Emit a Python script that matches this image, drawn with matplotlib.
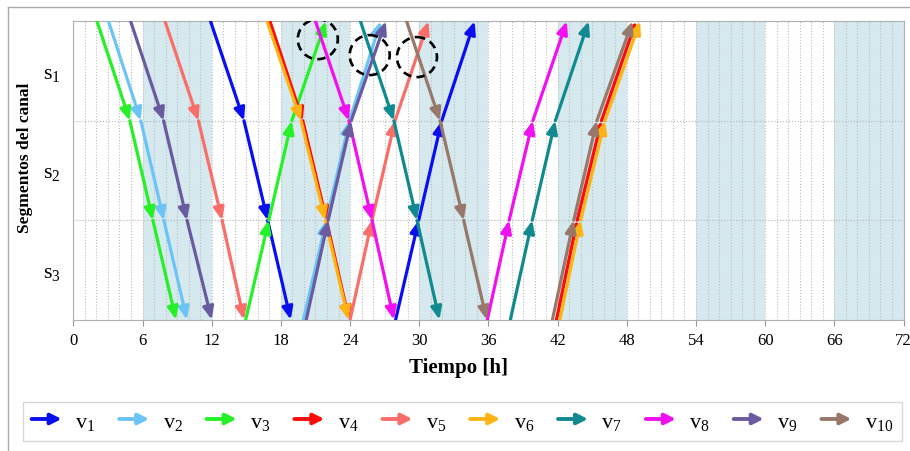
import numpy as np
import matplotlib.pyplot as plt
from matplotlib.patches import FancyArrowPatch, Ellipse
from matplotlib.lines import Line2D
from matplotlib.legend_handler import HandlerBase

plt.rcParams['font.family'] = ['Liberation Serif', 'DejaVu Serif']
plt.rcParams['mathtext.default'] = 'regular'

# segment boundaries passed (0 = entrance at top, 3 = exit at bottom)
down_pos = [0, 1, 2, 3]
up_pos = [3, 2, 1, 0]

# times [h] at each boundary
v1_down = [11.9, 14.8, 16.85, 18.85]
v1_up = [27.95, 29.95, 31.95, 34.8]
v2_down = [3.05, 5.85, 7.85, 9.85]
v2_up = [19.95, 21.95, 23.95, 26.65]
v3_down = [2.05, 4.9, 6.9, 8.9]
v3_up = [14.95, 16.95, 18.95, 21.9]
v4_down = [17.05, 19.9, 21.95, 23.9]
v4_up = [41.9, 43.7, 45.8, 48.8]
v5_down = [7.95, 10.85, 12.9, 14.8]
v5_up = [24.0, 25.9, 27.9, 30.8]
v6_down = [16.8, 19.75, 21.85, 23.85]
v6_up = [42.2, 44.0, 46.1, 49.15]
v7_down = [24.9, 27.8, 29.8, 31.75]
v7_up = [37.9, 39.8, 41.8, 44.7]
v8_down = [21.0, 23.9, 25.9, 27.8]
v8_up = [35.9, 37.8, 39.85, 42.8]
v9_down = [4.97, 7.83, 9.86, 12.0]
v9_up = [20.2, 22.1, 24.1, 27.1]
v10_down = [28.9, 31.8, 33.85, 35.85]
v10_up = [41.55, 43.4, 45.4, 48.5]

labels = [r'v$_{%d}$' % i for i in range(1, 11)]
colors = ['#0a0ff0', '#6cc4f6', '#26f026', '#ff0a0a', '#fa6e6a',
          '#ffb414', '#108a8e', '#f010f0', '#6a5aa0', '#98786a']
down_trips = [v1_down, v2_down, v3_down, v4_down, v5_down,
              v6_down, v7_down, v8_down, v9_down, v10_down]
up_trips = [v1_up, v2_up, v3_up, v4_up, v5_up,
            v6_up, v7_up, v8_up, v9_up, v10_up]

# night periods (shaded)
night_start = [6, 18, 30, 42, 54, 66]
night_end = [12, 24, 36, 48, 60, 72]

# dashed circles marking conflicts (time, position)
circle_t = [21.2, 25.7, 29.8]
circle_y = [0.18, 0.34, 0.36]

segments = [r's$_{1}$', r's$_{2}$', r's$_{3}$']

ARROW = '-|>,head_length=0.75,head_width=0.32'

fig = plt.figure(figsize=(9.1, 4.52), dpi=100)
ax = fig.add_axes([0.0806, 0.2905, 0.9123, 0.6602])

for s, e in zip(night_start, night_end):
    ax.axvspan(s, e, color='#d5e9ef', lw=0, zorder=0.2)

for c, down, up in zip(colors, down_trips, up_trips):
    for times, pos in [(down, down_pos), (up, up_pos)]:
        for i in range(len(times) - 1):
            arr = FancyArrowPatch((times[i], pos[i]), (times[i + 1], pos[i + 1]),
                                  arrowstyle=ARROW, mutation_scale=10,
                                  lw=2.3, color=c, shrinkA=0, shrinkB=0,
                                  zorder=3)
            ax.add_patch(arr)

for t, y in zip(circle_t, circle_y):
    ax.add_patch(Ellipse((t, y), width=40 / 11.53, height=40 / 99.5, fill=False,
                         ec='black', lw=1.9, ls=(0, (3.2, 2.0)), zorder=4))

ax.set_xlim(0, 72)
ax.set_ylim(3, 0)
ax.set_xticks(np.arange(0, 73, 6))
ax.set_xticks(np.arange(0, 73, 1), minor=True)
ax.set_yticks([0.5, 1.5, 2.5])
ax.set_yticklabels(segments, fontsize=16)
ax.set_yticks([1, 2], minor=True)
ax.tick_params(axis='x', which='major', labelsize=12, length=4, pad=5, color='#999999')
ax.tick_params(axis='y', which='major', length=0, pad=9)
ax.tick_params(which='minor', length=0)
ax.set_axisbelow(True)
ax.grid(which='both', axis='x', ls=':', color='#bdbdbd', lw=0.8)
ax.grid(which='minor', axis='y', ls=':', color='#b5b5b5', lw=0.8)
for sp in ax.spines.values():
    sp.set_color('#b0b0b0')

ax.set_xlabel('Tiempo [h]', fontsize=15, fontweight='bold')
ax.xaxis.set_label_coords(0.4635, -0.125)
ax.set_ylabel('Segmentos del canal', fontsize=12.5, fontweight='bold')
ax.yaxis.set_label_coords(-0.049, 0.545)


class ArrowHandler(HandlerBase):
    def create_artists(self, legend, orig_handle, xdescent, ydescent,
                       width, height, fontsize, trans):
        y = height / 2 - ydescent
        arr = FancyArrowPatch((-xdescent, y), (-xdescent + width, y),
                              arrowstyle='-|>,head_length=0.9,head_width=0.45',
                              mutation_scale=7, lw=2.8,
                              color=orig_handle.get_color(), transform=trans,
                              shrinkA=0, shrinkB=0)
        return [arr]


handles = [Line2D([], [], color=c) for c in colors]
leg = fig.legend(handles, labels, handler_map={Line2D: ArrowHandler()},
                 loc='center', ncol=10, mode='expand',
                 bbox_to_anchor=(0.025, 0.0155, 0.966, 0.0996),
                 fontsize=16, handlelength=1.35, handletextpad=0.6,
                 columnspacing=1.0, frameon=True, fancybox=False,
                 borderaxespad=0)
leg.get_frame().set_edgecolor('#cccccc')
leg.get_frame().set_linewidth(1)

# thin frame round the figure (left and top)
fig.add_artist(Line2D([8 / 910, 8 / 910], [0, 1 - 8 / 452], color='#aaaaaa', lw=1))
fig.add_artist(Line2D([8 / 910, 1], [1 - 8 / 452, 1 - 8 / 452], color='#aaaaaa', lw=1))

fig.savefig('out.png', dpi=100)
